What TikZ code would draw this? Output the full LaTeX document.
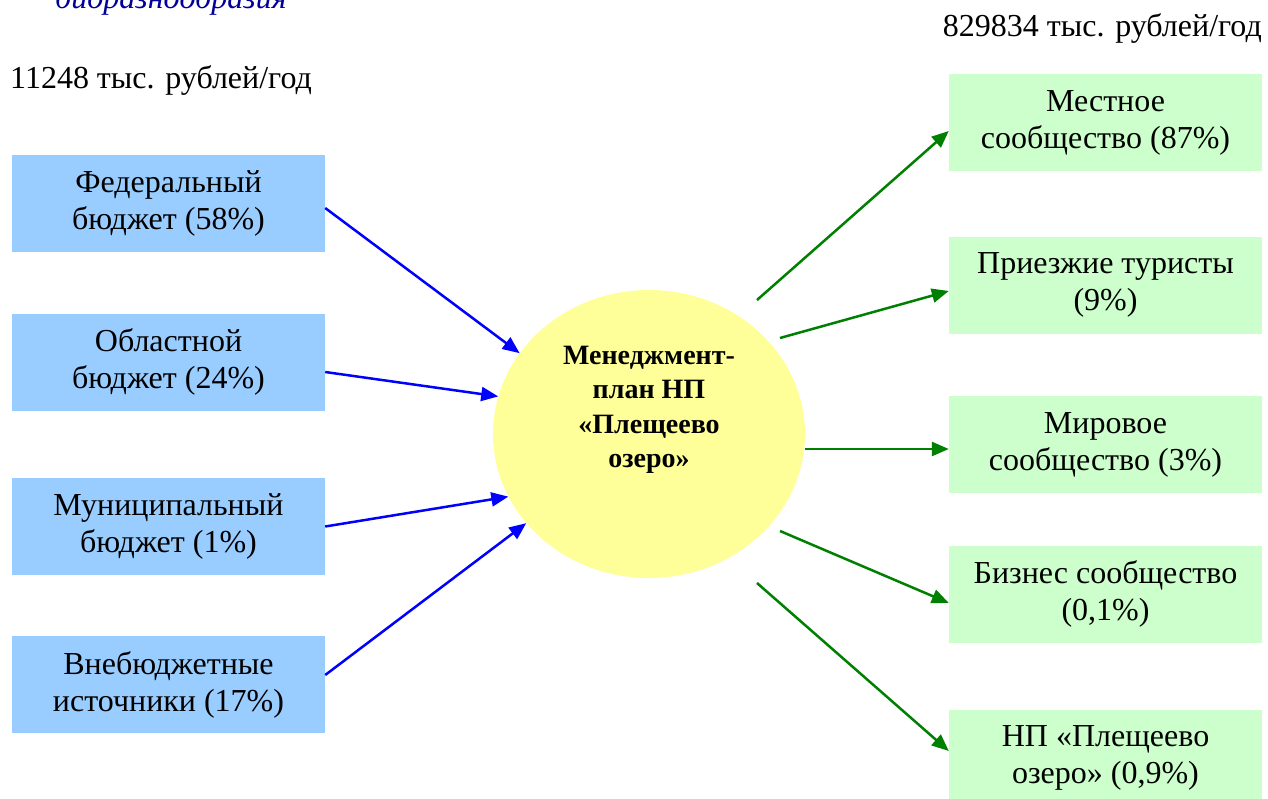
\documentclass[tikz,border=0pt]{standalone}
\usepackage{fontspec}
\setmainfont{LiberationSerif}[Extension=.ttf, UprightFont=*-Regular, BoldFont=*-Bold, ItalicFont=*-Italic, BoldItalicFont=*-BoldItalic]
\usetikzlibrary{arrows.meta,shapes.geometric}
\definecolor{boxblue}{HTML}{99CCFF}
\definecolor{boxgreen}{HTML}{CCFFCC}
\definecolor{circyellow}{HTML}{FFFF99}
\definecolor{lineblue}{HTML}{0000FF}
\definecolor{linegreen}{HTML}{008000}
\definecolor{titleblue}{HTML}{000099}
\begin{document}
\begin{tikzpicture}[x=1pt,y=-1pt,
  txt/.style={font=\fontsize{32}{37}\selectfont, align=center, inner sep=0pt},
  srcbox/.style={txt, fill=boxblue, draw=none, minimum width=313pt, minimum height=97pt},
  dstbox/.style={txt, fill=boxgreen, draw=none, minimum width=313pt, minimum height=97pt},
  inarrow/.style={draw=lineblue, line width=2.5pt, -{Triangle[length=17pt,width=14pt]}},
  outarrow/.style={draw=linegreen, line width=2.5pt, -{Triangle[length=17pt,width=14pt]}}
]
\useasboundingbox (0,0) rectangle (1268,798);
\fill[white] (0,0) rectangle (1268,798);

% header texts
\node[txt, anchor=base west, font=\fontsize{32}{37}\selectfont\itshape, text=titleblue] (toptitle) at (55,8) {биоразнообразия};
\node[txt, anchor=west] (lefthead) at (10,80) {11248 тыс. рублей/год};
\node[txt, anchor=east] (righthead) at (1262,28) {829834 тыс. рублей/год};

% centre
\node[ellipse, fill=circyellow, draw=none, minimum width=312pt, minimum height=288pt, inner sep=0pt] (c) at (649,434) {};
\node[txt, font=\fontsize{28}{34.5}\selectfont\bfseries] (ctext) at (649,410) {Менеджмент-\\план НП\\«Плещеево\\озеро»};

% sources
\node[srcbox] (f1) at (168.5,203.5) {Федеральный\\бюджет (58\%)};
\node[srcbox] (f2) at (168.5,362) {Областной\\бюджет (24\%)};
\node[srcbox] (f3) at (168.5,526.5) {Муниципальный\\бюджет (1\%)};
\node[srcbox] (f4) at (168.5,684.5) {Внебюджетные\\источники (17\%)};

% destinations
\node[dstbox] (g1) at (1105.5,122.5) {Местное\\сообщество (87\%)};
\node[dstbox] (g2) at (1105.5,285) {Приезжие туристы\\(9\%)};
\node[dstbox] (g3) at (1105.5,444.5) {Мировое\\сообщество (3\%)};
\node[dstbox] (g4) at (1105.5,594) {Бизнес сообщество\\(0,1\%)};
\node[dstbox] (g5) at (1105.5,758) {НП «Плещеево\\озеро» (0,9\%)};

% incoming arrows
\draw[inarrow] ([yshift=-4.5pt]f1.east) -- (c.148);
\draw[inarrow] ([yshift=-10pt]f2.east) -- (c.166);
\draw[inarrow] (f3.east) -- (c.204);
\draw[inarrow] ([yshift=9.5pt]f4.east) -- (c.216);

% outgoing arrow start points
\coordinate (o1) at (757,300);
\coordinate (o2) at (780,338);
\coordinate (o3) at (805,449);
\coordinate (o4) at (780,531);
\coordinate (o5) at (757,583);

\draw[outarrow] (o1) -- ([yshift=-8.5pt]g1.west);
\draw[outarrow] (o2) -- ([yshift=-6pt]g2.west);
\draw[outarrow] (o3) -- ([yshift=-4.5pt]g3.west);
\draw[outarrow] (o4) -- ([yshift=-9pt]g4.west);
\draw[outarrow] (o5) -- ([yshift=7pt]g5.west);
\end{tikzpicture}
\end{document}
